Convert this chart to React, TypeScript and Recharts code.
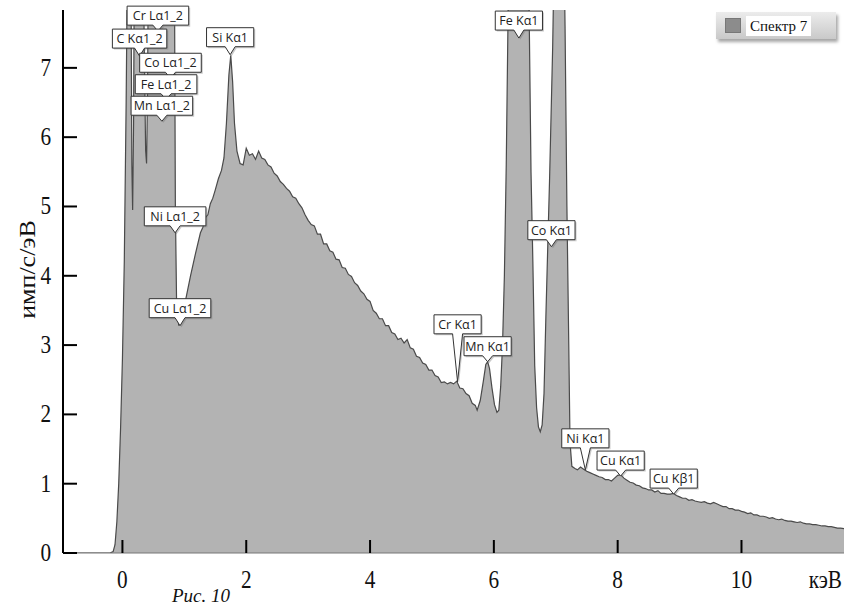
import React from "react"
import { AreaChart, Area, XAxis, YAxis, ReferenceDot } from "recharts"

// energy, keV
const energy = [
    -0.96, -0.2, -0.15, -0.12, -0.09, -0.06, -0.03, 0, 0.03, 0.06, 0.09, 0.12, 0.14, 0.152, 0.165, 0.18, 0.2,
    0.27, 0.33, 0.36, 0.375, 0.39, 0.405, 0.43, 0.5, 0.6, 0.7, 0.8, 0.84, 0.855, 0.875, 0.91, 0.95,
    1.02, 1.1, 1.18, 1.26, 1.3, 1.34, 1.38, 1.42, 1.46, 1.5, 1.55, 1.6, 1.64, 1.68, 1.72, 1.75,
    1.78, 1.81, 1.85, 1.9, 1.95, 2.0, 2.05, 2.1, 2.15, 2.2, 2.25, 2.3, 2.35, 2.4, 2.45, 2.5,
    2.55, 2.6, 2.65, 2.7, 2.75, 2.8, 2.85, 2.9, 2.95, 3.0, 3.05, 3.1, 3.15, 3.2, 3.25, 3.3,
    3.35, 3.4, 3.45, 3.5, 3.55, 3.6, 3.65, 3.7, 3.75, 3.8, 3.85, 3.9, 3.95, 4.0, 4.05, 4.1,
    4.15, 4.2, 4.25, 4.3, 4.35, 4.4, 4.45, 4.5, 4.55, 4.6, 4.65, 4.7, 4.75, 4.8, 4.85, 4.9,
    4.95, 5.0, 5.05, 5.1, 5.15, 5.2, 5.25, 5.3, 5.35, 5.4, 5.45, 5.5, 5.55, 5.6, 5.65, 5.7,
    5.73, 5.78, 5.83, 5.87, 5.9, 5.93, 5.97, 6.01, 6.05, 6.08, 6.11, 6.14, 6.17, 6.2, 6.23, 6.27,
    6.33, 6.4, 6.47, 6.53, 6.57, 6.6, 6.63, 6.66, 6.69, 6.72, 6.75, 6.78, 6.81, 6.84, 6.87, 6.9,
    6.95, 6.99, 7.06, 7.12, 7.15, 7.18, 7.21, 7.23, 7.26, 7.31, 7.35, 7.4, 7.45, 7.5, 7.55, 7.6,
    7.65, 7.7, 7.75, 7.8, 7.85, 7.9, 7.95, 8.0, 8.05, 8.1, 8.15, 8.2, 8.25, 8.3, 8.35, 8.4,
    8.45, 8.5, 8.55, 8.6, 8.65, 8.7, 8.75, 8.8, 8.85, 8.9, 8.95, 9.0, 9.05, 9.1, 9.15, 9.2,
    9.25, 9.3, 9.35, 9.4, 9.45, 9.5, 9.55, 9.6, 9.65, 9.7, 9.75, 9.8, 9.85, 9.9, 9.95, 10.0,
    10.05, 10.1, 10.15, 10.2, 10.25, 10.3, 10.35, 10.4, 10.45, 10.5, 10.55, 10.6, 10.65, 10.7, 10.75, 10.8,
    10.85, 10.9, 10.95, 11.0, 11.05, 11.1, 11.15, 11.2, 11.25, 11.3, 11.35, 11.4, 11.45, 11.5, 11.55, 11.6,
    11.66,
]

// имп/с/эВ
const counts = [
    0, 0, 0.02, 0.12, 0.45, 1.0, 1.8, 2.8, 4.2, 6.5, 9.5, 10.5, 8.0, 5.6, 4.95, 6.2, 10.0,
    13.0, 9.0, 6.8, 5.8, 5.62, 6.6, 10.0, 13.0, 15.0, 13.0, 10.0, 8.5, 5.0, 3.6, 3.28, 3.4,
    3.65, 4.0, 4.32, 4.62, 4.7, 4.84, 4.88, 5.04, 5.12, 5.24, 5.4, 5.52, 5.7, 6.2, 6.9, 7.18,
    6.8, 6.2, 5.8, 5.62, 5.6, 5.84, 5.74, 5.76, 5.68, 5.8, 5.7, 5.68, 5.6, 5.57, 5.48, 5.44,
    5.36, 5.32, 5.26, 5.22, 5.14, 5.12, 5.04, 4.98, 4.88, 4.8, 4.74, 4.72, 4.6, 4.6, 4.46, 4.46,
    4.36, 4.34, 4.24, 4.23, 4.12, 4.11, 4.02, 3.99, 3.9, 3.86, 3.78, 3.74, 3.66, 3.63, 3.5, 3.46,
    3.38, 3.38, 3.28, 3.28, 3.18, 3.16, 3.08, 3.1, 3.03, 3.08, 2.96, 2.94, 2.84, 2.82, 2.74, 2.72,
    2.64, 2.64, 2.56, 2.54, 2.46, 2.47, 2.44, 2.46, 2.44, 2.48, 2.38, 2.37, 2.3, 2.27, 2.16, 2.13,
    2.06, 2.2, 2.48, 2.72, 2.76, 2.66, 2.38, 2.14, 2.03, 2.06, 2.4, 3.0, 4.0, 5.6, 7.8, 11.0,
    14.5, 16.0, 14.5, 11.0, 7.8, 5.5, 4.2, 2.7, 2.1, 1.82, 1.75, 1.85, 2.3, 3.4, 4.4, 5.4,
    7.3, 9.5, 12.0, 9.5, 7.6, 5.0, 3.0, 1.6, 1.25, 1.22, 1.2, 1.24, 1.21, 1.18, 1.16, 1.14,
    1.12, 1.1, 1.09, 1.06, 1.06, 1.04, 1.08, 1.12, 1.13, 1.08, 1.05, 1.02, 1.01, 0.98, 0.97, 0.94,
    0.93, 0.91, 0.91, 0.88, 0.9, 0.86, 0.86, 0.85, 0.85, 0.86, 0.83, 0.81, 0.79, 0.79, 0.76, 0.77,
    0.75, 0.74, 0.73, 0.74, 0.72, 0.71, 0.73, 0.71, 0.69, 0.67, 0.67, 0.64, 0.64, 0.62, 0.62, 0.6,
    0.59, 0.57, 0.58, 0.55, 0.55, 0.53, 0.53, 0.52, 0.5, 0.51, 0.49, 0.48, 0.49, 0.47, 0.46, 0.46,
    0.45, 0.44, 0.45, 0.43, 0.42, 0.42, 0.41, 0.41, 0.4, 0.39, 0.39, 0.38, 0.38, 0.37, 0.36, 0.36,
    0.35,
]

const xTicks = [0, 2, 4, 6, 8, 10]
const yTicks = [0, 1, 2, 3, 4, 5, 6, 7]

const peakNames = [
    "Cr Lα1_2", "C Kα1_2", "Co Lα1_2", "Fe Lα1_2", "Mn Lα1_2", "Si Kα1", "Ni Lα1_2", "Cu Lα1_2",
    "Cr Kα1", "Mn Kα1", "Fe Kα1", "Co Kα1", "Ni Kα1", "Cu Kα1", "Cu Kβ1",
]
const peakEnergy = [0.573, 0.277, 0.776, 0.705, 0.637, 1.74, 0.851, 0.93, 5.414, 5.899, 6.404, 6.93, 7.478, 8.048, 8.905]
const peakLevel = [7.53, 7.17, 6.85, 6.54, 6.23, 7.19, 4.62, 3.28, 2.47, 2.76, 7.43, 4.42, 1.2, 1.11, 0.85]
const peakPointer = [6, 8, 6, 6, 6, 8, 7, 8, 48, 6, 8, 7, 22, 6, 6]

const data = energy.map((e, i) => ({ e, v: counts[i] }))

const serif = "Liberation Serif"
const serifText = { fontFamily: serif, fontWeight: 400 }

function YTick({ x, y, payload }: any) {
    return (
        <g>
            <line x1={x} y1={y} x2={x + 14} y2={y} stroke="#000" strokeWidth={2} />
            <text
                transform={`translate(${x - 12},${y + 8}) scale(0.85,1)`}
                textAnchor="end"
                style={serifText}
                fontSize={25}
                fill="#111"
            >
                {payload.value}
            </text>
        </g>
    )
}

function XTick({ x, y, payload }: any) {
    return (
        <g>
            <line x1={x} y1={y} x2={x} y2={y - 13} stroke="#000" strokeWidth={2} />
            <text
                transform={`translate(${x},${y + 35}) scale(0.85,1)`}
                textAnchor="middle"
                style={serifText}
                fontSize={25}
                fill="#111"
            >
                {payload.value}
            </text>
        </g>
    )
}

function callout(name: string, pointer: number) {
    return (props: any) => {
        const { cx, cy } = props
        const w = name.length * 7.2 + 4
        const bottom = cy - pointer
        const top = bottom - 19
        const l = cx - w / 2
        const r = cx + w / 2
        const d = `M${l},${top}H${r}V${bottom}H${cx + 5}L${cx},${cy}L${cx - 5},${bottom}H${l}Z`
        return (
            <g>
                <path d={d} transform="translate(1.5,1.5)" fill="#666" opacity={0.35} />
                <path d={d} fill="#fff" stroke="#333" strokeWidth={1} />
                <text x={cx} y={bottom - 5} textAnchor="middle" style={{ fontFamily: "Open Sans" }} fontSize={12.5} fill="#222">
                    {name}
                </text>
            </g>
        )
    }
}

export default function App() {
    return (
        <div style={{ position: "absolute", left: 0, top: 0, width: 844, height: 611, background: "#fff" }}>
            <AreaChart width={844} height={611} data={data} margin={{ top: 10, right: 0, bottom: 0, left: 0 }}>
                <XAxis
                    dataKey="e"
                    type="number"
                    domain={[-0.96, 11.656]}
                    ticks={xTicks}
                    allowDataOverflow
                    height={58}
                    axisLine={{ stroke: "#777", strokeWidth: 1 }}
                    tickLine={false}
                    tickSize={0}
                    tickMargin={0}
                    tick={<XTick />}
                    label={{
                        content: ({ viewBox }: any) => (
                            <text
                                transform={`translate(${viewBox.x + viewBox.width - 2},${viewBox.y + 35}) scale(0.85,1)`}
                                textAnchor="end"
                                style={serifText}
                                fontSize={25}
                                fill="#111"
                            >
                                кэВ
                            </text>
                        ),
                    }}
                />
                <YAxis
                    type="number"
                    domain={[0, 7.835]}
                    ticks={yTicks}
                    allowDataOverflow
                    width={63}
                    axisLine={{ stroke: "#000", strokeWidth: 2 }}
                    tickLine={false}
                    tickSize={0}
                    tickMargin={0}
                    tick={<YTick />}
                    label={{
                        content: ({ viewBox }: any) => (
                            <text
                                transform={`translate(${viewBox.x + 35},${viewBox.y + viewBox.height / 2 - 12}) rotate(-90) scale(1,0.85)`}
                                textAnchor="middle"
                                style={serifText}
                                fontSize={26}
                                fill="#111"
                            >
                                имп/с/эВ
                            </text>
                        ),
                    }}
                />
                <Area
                    type="linear"
                    dataKey="v"
                    stroke="#4a4a4a"
                    strokeWidth={1.2}
                    fill="#b3b3b3"
                    fillOpacity={1}
                    isAnimationActive={false}
                />
                {peakNames.map((name, i) => (
                    <ReferenceDot
                        key={name}
                        x={peakEnergy[i]}
                        y={peakLevel[i]}
                        ifOverflow="visible"
                        shape={callout(name, peakPointer[i])}
                    />
                ))}
            </AreaChart>
            <div
                style={{
                    position: "absolute",
                    left: 716,
                    top: 12,
                    width: 120,
                    height: 27,
                    background: "linear-gradient(#ececec, #c9c9c9)",
                    boxShadow: "2px 3px 3px rgba(0,0,0,0.35)",
                    display: "flex",
                    alignItems: "center",
                }}
            >
                <div style={{ width: 14, height: 13, background: "#8c8c8c", marginLeft: 9, border: "1px solid #777" }} />
                <div
                    style={{
                        background: "#fff",
                        marginLeft: 5,
                        padding: "0 4px",
                        fontFamily: serif,
                        fontSize: 15,
                        lineHeight: "20px",
                        color: "#111",
                    }}
                >
                    Спектр 7
                </div>
            </div>
            <div
                style={{
                    position: "absolute",
                    left: 151,
                    top: 585,
                    width: 100,
                    textAlign: "center",
                    fontFamily: serif,
                    fontStyle: "italic",
                    fontSize: 19,
                    color: "#111",
                }}
            >
                Рис. 10
            </div>
        </div>
    )
}
